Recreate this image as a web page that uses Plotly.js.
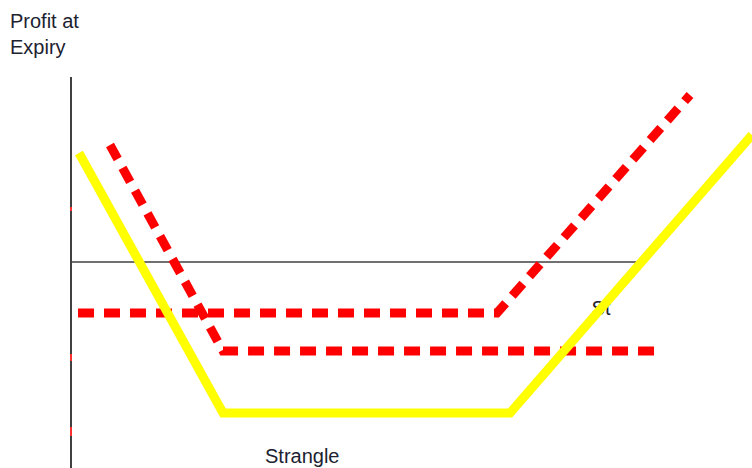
<!DOCTYPE html>
<html>
<head>
<meta charset="utf-8">
<script src="https://cdn.plot.ly/plotly-3.0.1.min.js"></script>
<style>
  html, body { margin: 0; padding: 0; background: #fff; }
  #plot { width: 752px; height: 468px; }
</style>
</head>
<body>
<div id="plot"></div>
<script>
// payoff lines, x = stock price at expiry, y = profit (arbitrary units)
var strangleX = [1.6, 30.4, 87.8, 136.2];
var strangleY = [21.8, -30.2, -30.2, 25.4];

var callX = [1.4, 85.2, 123.8];
var callY = [-10.2, -10.2, 33.4];

var putX = [7.8, 30.4, 117.2];
var putY = [23.4, -17.8, -17.8];

// little red marks sitting on the profit axis
var axisMarkY = [11, 10.2, -18.4, -19.8, -33.0, -34.8];

var axisTop = 37;
var axisRight = 113;

var textFont = { family: "Liberation Sans, Arial, sans-serif", size: 20, color: "#1c2230" };

var markX = [], markY = [];
for (var i = 0; i < axisMarkY.length; i += 2) {
    markX.push(0, 0, null);
    markY.push(axisMarkY[i], axisMarkY[i + 1], null);
}

var traceMarks = {
    x: markX, y: markY,
    mode: "lines", type: "scatter",
    line: { color: "#ff3030", width: 2 }
};

var traceCall = {
    x: callX, y: callY,
    mode: "lines", type: "scatter",
    line: { color: "#ff0000", width: 9, dash: "16px,10px" }
};

var tracePut = {
    x: putX, y: putY,
    mode: "lines", type: "scatter",
    line: { color: "#ff0000", width: 9, dash: "16px,10px" }
};

var traceSt = {
    x: [106], y: [-9.6],
    mode: "text", type: "scatter",
    text: ["St"],
    textfont: textFont
};

var traceStrangle = {
    x: strangleX, y: strangleY,
    mode: "lines", type: "scatter",
    line: { color: "#ffff00", width: 9 }
};

var layout = {
    width: 752,
    height: 468,
    margin: { l: 0, r: 0, t: 0, b: 0 },
    paper_bgcolor: "#ffffff",
    plot_bgcolor: "#ffffff",
    showlegend: false,
    hovermode: false,
    xaxis: { range: [-14.2, 136.2], visible: false, fixedrange: true },
    yaxis: { range: [-41.2, 52.4], visible: false, fixedrange: true },
    shapes: [
        { type: "line", layer: "below", x0: 0, x1: 0, y0: -42, y1: axisTop,
          line: { color: "#404040", width: 2 } },
        { type: "line", layer: "below", x0: 0, x1: axisRight, y0: 0, y1: 0,
          line: { color: "#404040", width: 1.5 } }
    ],
    annotations: [
        { xref: "paper", yref: "paper", x: 8 / 752, y: 1 - 8 / 468,
          xanchor: "left", yanchor: "top", align: "left", showarrow: false,
          text: "Profit at<br>Expiry", font: textFont },
        { x: 46.2, y: -38.8, showarrow: false, text: "Strangle", font: textFont }
    ]
};

Plotly.newPlot("plot", [traceMarks, traceCall, tracePut, traceSt, traceStrangle], layout,
    { staticPlot: true, displayModeBar: false });
</script>
</body>
</html>
